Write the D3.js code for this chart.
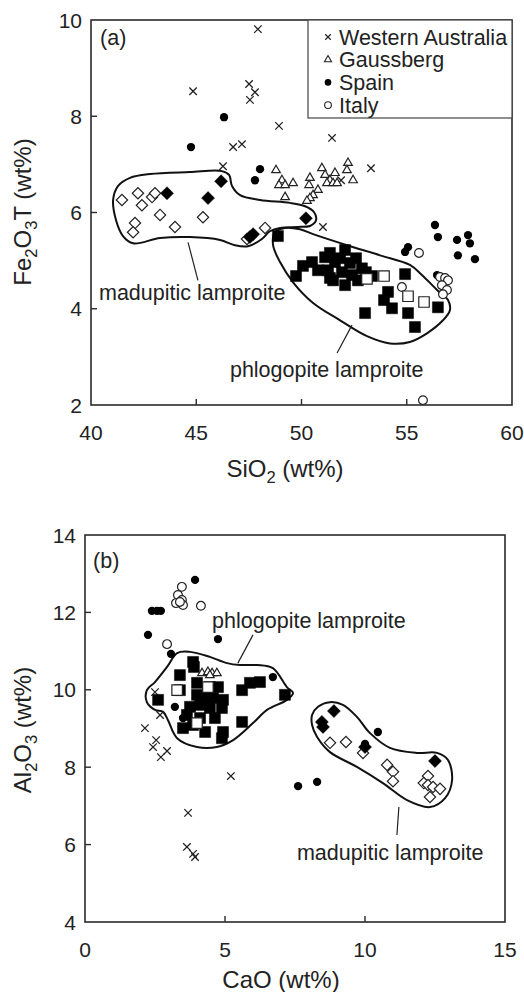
<!DOCTYPE html>
<html lang="en">
<head>
<meta charset="utf-8">
<title>Lamproites: Fe2O3T vs SiO2 and Al2O3 vs CaO</title>
<script src="https://cdnjs.cloudflare.com/ajax/libs/d3/7.8.0/d3.min.js"></script>
<style>
  body { margin: 0; background: #fff; }
  svg { font-family: Arial, "Liberation Sans", sans-serif; }
  .frame { fill: none; stroke: #2a2a2a; stroke-width: 1.6px; }
  .tick { stroke: #2a2a2a; stroke-width: 1.4px; }
  .tick-label { font-size: 21px; fill: #222; }
  .axis-title { font-size: 24px; fill: #222; }
  .note { font-size: 21.5px; fill: #222; }
  .outline { fill: none; stroke: #111; stroke-width: 2px; }
  .leader { stroke: #222; stroke-width: 1.2px; }
</style>
</head>
<body>
<div id="chart"></div>
<script>
// ---- panel (a): SiO2 vs Fe2O3T ----
var xTicksA = [40, 45, 50, 55, 60];
var yTicksA = [2, 4, 6, 8, 10];

var waA = [[47.93,9.81],[44.85,8.52],[47.51,8.67],[47.79,8.50],[47.55,8.34],[48.93,7.80],
  [46.75,7.36],[47.17,7.42],[46.27,6.96],[51.45,7.55],[53.30,6.92],[51.88,6.67],[51.02,5.70]];
var gaussA = [[48.79,6.88],[49.07,6.67],[48.93,6.57],[49.22,6.57],[49.60,6.61],[49.22,6.32],
  [50.40,6.72],[50.36,6.57],[50.97,6.92],[51.12,6.78],[51.35,6.67],[51.59,6.82],[51.21,6.61],
  [51.50,6.61],[51.69,6.61],[50.78,6.47],[50.55,6.36],[50.40,6.30],[50.26,6.24],[52.21,7.03],
  [52.16,6.88],[52.45,6.67]];
var spainA = [[46.32,7.98],[44.75,7.36],[48.03,6.90],[47.79,6.67],[56.34,5.74],[56.48,5.49],
  [57.39,5.43],[57.91,5.53],[58.00,5.36],[57.43,5.11],[58.24,5.03],[55.06,5.28],[54.92,5.18],
  [56.44,4.70]];
var italyA = [[55.58,5.16],[56.58,4.66],[56.82,4.64],[56.96,4.59],[56.67,4.49],[56.91,4.39],
  [56.72,4.30],[54.77,4.45],[55.77,2.10]];
var madOpenA = [[41.47,6.26],[42.23,6.40],[42.42,6.15],[42.90,6.32],[43.04,6.40],[43.28,5.95],
  [42.09,5.78],[42.00,5.59],[43.99,5.70],[45.32,5.90],[47.41,5.45],[48.27,5.68]];
var madFillA = [[43.61,6.40],[45.56,6.30],[46.18,6.65],[47.70,5.55],[47.55,5.49],[50.21,5.88]];
var phlFillA = [[48.88,5.51],[49.74,4.68],[50.07,4.89],[50.50,4.97],[50.78,4.80],[51.12,5.07],
  [51.35,5.16],[51.26,4.80],[51.59,4.97],[51.50,4.59],[51.83,5.05],[51.92,4.76],[52.07,4.49],
  [52.30,4.95],[52.40,4.70],[52.59,5.05],[52.68,4.59],[52.87,4.84],[53.06,4.76],[53.35,4.68],
  [54.92,4.72],[54.11,4.35],[53.92,4.18],[54.30,4.01],[53.02,3.91],[55.06,3.91],[55.39,3.62],
  [56.48,4.03],[52.07,5.22],[51.35,4.64]];
var phlOpenA = [[53.11,4.62],[53.92,4.68],[55.06,4.26],[55.82,4.14]];
var madFieldA = [[41.05,6.26],[41.28,6.55],[41.85,6.72],[42.80,6.80],[44.70,6.84],[46.22,6.86],
  [46.56,6.78],[46.70,6.55],[47.08,6.36],[48.03,6.26],[49.45,6.20],[50.17,6.13],[50.59,6.01],
  [50.69,5.84],[50.40,5.72],[49.83,5.70],[48.98,5.68],[48.50,5.61],[48.12,5.45],[47.46,5.30],
  [46.84,5.32],[46.13,5.43],[44.70,5.49],[43.28,5.47],[42.00,5.36],[41.52,5.51],[41.19,5.84]];
var phlFieldA = [[48.74,5.59],[49.22,5.68],[49.93,5.65],[50.55,5.55],[52.16,5.32],[53.73,5.11],
  [55.15,4.91],[55.72,4.70],[56.44,4.39],[56.96,4.18],[57.05,3.97],[56.72,3.76],[55.96,3.49],
  [55.15,3.31],[54.20,3.28],[53.11,3.43],[51.83,3.76],[50.55,4.12],[49.60,4.55],[48.98,4.97],
  [48.65,5.32]];

// ---- panel (b): CaO vs Al2O3 ----
var xTicksB = [0, 5, 10, 15];
var yTicksB = [4, 6, 8, 10, 12, 14];

var waB = [[2.14,9.01],[2.54,8.70],[2.43,8.52],[2.93,8.42],[2.71,8.26],[5.21,7.77],[3.68,6.82],
  [3.64,5.94],[3.86,5.76],[3.93,5.68],[2.50,9.94],[2.68,9.35]];
var gaussB = [[4.18,10.43],[4.39,10.46],[4.54,10.43],[4.71,10.43],[4.46,10.38]];
var spainB = [[3.93,12.84],[2.39,12.04],[2.57,12.04],[2.71,12.04],[2.25,11.42],[4.75,11.31],
  [3.07,10.93],[3.21,9.56],[6.71,10.33],[3.50,9.27],[7.61,7.51],[8.29,7.62],[10.46,8.91],[10.0,8.60]];
var italyB = [[3.46,12.66],[3.32,12.45],[3.46,12.32],[3.25,12.24],[3.50,12.19],[3.39,12.27],
  [4.14,12.17],[2.93,11.18]];
var phlFillB = [[3.86,10.72],[3.89,10.59],[3.39,10.38],[4.00,10.18],[4.46,10.07],[4.75,10.07],
  [3.39,9.99],[2.61,9.74],[4.00,9.87],[4.36,9.79],[4.57,9.79],[4.93,9.74],[3.75,9.56],[4.11,9.61],
  [4.46,9.53],[4.89,9.53],[4.64,9.27],[4.11,9.27],[3.50,9.01],[3.86,9.09],[4.29,8.91],[4.93,8.91],
  [4.89,8.75],[5.61,9.17],[5.61,9.99],[5.89,10.18],[6.25,10.20],[7.14,9.87],[3.64,9.35]];
var phlOpenB = [[3.29,9.99],[4.39,10.07],[4.00,9.14]];
var madFillB = [[8.89,9.45],[8.46,9.17],[8.50,9.04],[10.0,8.52],[12.5,8.16]];
var madOpenB = [[8.75,8.63],[9.32,8.65],[9.93,8.37],[10.79,8.06],[11.0,7.88],[11.0,7.64],
  [12.25,7.77],[12.10,7.59],[12.25,7.54],[12.43,7.49],[12.68,7.44],[12.32,7.23]];
var phlFieldB = [[3.29,10.95],[3.75,10.98],[4.46,10.85],[5.07,10.69],[5.54,10.64],[6.14,10.64],
  [6.71,10.56],[7.21,10.07],[7.43,9.92],[7.21,9.74],[6.50,9.48],[6.00,9.14],[5.29,8.70],
  [4.71,8.52],[4.00,8.52],[3.29,8.75],[2.96,9.22],[2.79,9.43],[2.50,9.48],[2.21,9.68],
  [2.21,9.99],[2.50,10.20],[2.93,10.59]];
var madFieldB = [[8.11,9.35],[8.32,9.56],[8.75,9.68],[9.21,9.61],[9.71,9.30],[10.18,8.88],
  [10.89,8.50],[11.86,8.37],[12.57,8.37],[12.96,8.19],[13.11,7.67],[12.86,7.20],[12.32,6.97],
  [11.50,7.15],[10.64,7.59],[9.71,8.01],[8.75,8.39],[8.29,8.78],[8.11,9.09]];

var legendNames = ["Western Australia", "Gaussberg", "Spain", "Italy"];

var W = 524, H = 992;
var svg = d3.select("#chart").append("svg")
    .attr("width", W).attr("height", H);

// x-mark path (fallback if symbolX not in this build)
var xSym = d3.symbolX || {
  draw: function(ctx, size) {
    var r = Math.sqrt(size) * 0.5;
    ctx.moveTo(-r, -r); ctx.lineTo(r, r);
    ctx.moveTo(-r, r); ctx.lineTo(r, -r);
  }
};

var styles = {
  wa:      { type: xSym,               size: 38,  fill: "none", stroke: "#222", sw: 1.3 },
  gauss:   { type: d3.symbolTriangle,  size: 32,  fill: "#fff", stroke: "#222", sw: 1.2 },
  spain:   { type: d3.symbolCircle,    size: 54,  fill: "#000", stroke: "none", sw: 0 },
  italy:   { type: d3.symbolCircle,    size: 60,  fill: "#fff", stroke: "#222", sw: 1.2 },
  madOpen: { type: d3.symbolSquare,    size: 64,  fill: "#fff", stroke: "#222", sw: 1.2, rot: 45 },
  madFill: { type: d3.symbolSquare,    size: 84,  fill: "#000", stroke: "#000", sw: 0.5, rot: 45 },
  phlFill: { type: d3.symbolSquare,    size: 121, fill: "#000", stroke: "#000", sw: 0.5 },
  phlOpen: { type: d3.symbolSquare,    size: 110, fill: "#fff", stroke: "#222", sw: 1.2 }
};

function drawPoints(g, pts, st, x, y) {
  g.append("g").selectAll("path")
    .data(pts).enter().append("path")
    .attr("d", d3.symbol().type(st.type).size(st.size))
    .attr("transform", function(d) {
      return "translate(" + x(d[0]) + "," + y(d[1]) + ")" + (st.rot ? " rotate(" + st.rot + ")" : "");
    })
    .attr("fill", st.fill)
    .attr("stroke", st.stroke)
    .attr("stroke-width", st.sw);
}

function drawField(g, pts, x, y) {
  var line = d3.line()
    .x(function(d) { return x(d[0]); })
    .y(function(d) { return y(d[1]); })
    .curve(d3.curveCatmullRomClosed.alpha(0.5));
  g.append("path").attr("class", "outline").attr("d", line(pts));
}

function drawFrame(g, x, y, xTicks, yTicks) {
  var x0 = x.range()[0], x1 = x.range()[1], y0 = y.range()[0], y1 = y.range()[1];
  g.append("rect").attr("class", "frame")
    .attr("x", x0).attr("y", y1).attr("width", x1 - x0).attr("height", y0 - y1);
  // inward ticks on bottom and left
  g.selectAll(".xt").data(xTicks.slice(1, -1)).enter().append("line")
    .attr("class", "tick")
    .attr("x1", function(d) { return x(d); }).attr("x2", function(d) { return x(d); })
    .attr("y1", y0).attr("y2", y0 - 6);
  g.selectAll(".yt").data(yTicks.slice(1, -1)).enter().append("line")
    .attr("class", "tick")
    .attr("y1", function(d) { return y(d); }).attr("y2", function(d) { return y(d); })
    .attr("x1", x0).attr("x2", x0 + 6);
  g.selectAll(".xl").data(xTicks).enter().append("text")
    .attr("class", "tick-label")
    .attr("x", function(d) { return x(d); })
    .attr("y", y0 + 35)
    .attr("text-anchor", "middle")
    .text(function(d) { return d; });
  g.selectAll(".yl").data(yTicks).enter().append("text")
    .attr("class", "tick-label")
    .attr("x", x0 - 9)
    .attr("y", function(d) { return y(d) + 7.5; })
    .attr("text-anchor", "end")
    .text(function(d) { return d; });
}

function note(g, txt, px, py) {
  g.append("text").attr("class", "note").attr("x", px).attr("y", py).text(txt);
}
function leader(g, a, b) {
  g.append("line").attr("class", "leader")
    .attr("x1", a[0]).attr("y1", a[1]).attr("x2", b[0]).attr("y2", b[1]);
}

// subscripted axis title built from parts: [text, isSub, backUp]
function title(g, parts, px, py, rotate) {
  var t = g.append("text").attr("class", "axis-title")
    .attr("text-anchor", "middle")
    .attr("transform", "translate(" + px + "," + py + ")" + (rotate ? " rotate(-90)" : ""));
  parts.forEach(function(p) {
    t.append("tspan")
      .attr("font-size", p[1] ? 16.5 : 24)
      .attr("dy", p[1] ? 6 : (p[2] ? -6 : 0))
      .text(p[0]);
  });
}

// ===== panel (a) =====
var xA = d3.scaleLinear().domain([40, 60]).range([91, 512]);
var yA = d3.scaleLinear().domain([2, 10]).range([405, 20]);
var gA = svg.append("g");

drawField(gA, madFieldA, xA, yA);
drawField(gA, phlFieldA, xA, yA);
drawPoints(gA, waA, styles.wa, xA, yA);
drawPoints(gA, gaussA, styles.gauss, xA, yA);
drawPoints(gA, spainA, styles.spain, xA, yA);
drawPoints(gA, italyA, styles.italy, xA, yA);
drawPoints(gA, madOpenA, styles.madOpen, xA, yA);
drawPoints(gA, madFillA, styles.madFill, xA, yA);
drawPoints(gA, phlFillA, styles.phlFill, xA, yA);
drawPoints(gA, phlOpenA, styles.phlOpen, xA, yA);
drawFrame(gA, xA, yA, xTicksA, yTicksA);

note(gA, "(a)", xA(40.43), yA(9.48));
note(gA, "madupitic lamproite", xA(40.38), yA(4.18));
leader(gA, [xA(44.61), yA(5.38)], [xA(45.08), yA(4.59)]);
note(gA, "phlogopite lamproite", xA(46.6), yA(2.58));
leader(gA, [xA(52.40), yA(3.66)], [xA(51.69), yA(3.08)]);

// legend
var lg = gA.append("g");
lg.append("rect").attr("x", 308).attr("y", 20).attr("width", 204).attr("height", 98)
  .attr("fill", "#fff").attr("stroke", "#444").attr("stroke-width", 1.2);
var legStyles = [
  { type: xSym, size: 22, fill: "none", stroke: "#222", sw: 1.2 },
  { type: d3.symbolTriangle, size: 22, fill: "#fff", stroke: "#222", sw: 1.1 },
  { type: d3.symbolCircle, size: 34, fill: "#000", stroke: "none", sw: 0 },
  { type: d3.symbolCircle, size: 36, fill: "#fff", stroke: "#222", sw: 1.1 }
];
legendNames.forEach(function(name, i) {
  var cy = 37 + i * 22.7;
  var st = legStyles[i];
  lg.append("path").attr("d", d3.symbol().type(st.type).size(st.size))
    .attr("transform", "translate(328," + cy + ")")
    .attr("fill", st.fill).attr("stroke", st.stroke).attr("stroke-width", st.sw);
  lg.append("text").attr("class", "note").attr("x", 339).attr("y", cy + 7.5).text(name);
});

title(gA, [["Fe"], ["2", true], ["O", false, true], ["3", true], ["T (wt%)", false, true]], 31, 212, true);
title(gA, [["SiO"], ["2", true], [" (wt%)", false, true]], 285, 477, false);

// ===== panel (b) =====
var xB = d3.scaleLinear().domain([0, 15]).range([85, 505]);
var yB = d3.scaleLinear().domain([4, 14]).range([922, 535]);
var gB = svg.append("g");

drawField(gB, phlFieldB, xB, yB);
drawField(gB, madFieldB, xB, yB);
drawPoints(gB, waB, styles.wa, xB, yB);
drawPoints(gB, spainB, styles.spain, xB, yB);
drawPoints(gB, italyB, styles.italy, xB, yB);
drawPoints(gB, phlFillB, styles.phlFill, xB, yB);
drawPoints(gB, phlOpenB, styles.phlOpen, xB, yB);
drawPoints(gB, gaussB, styles.gauss, xB, yB);
drawPoints(gB, madOpenB, styles.madOpen, xB, yB);
drawPoints(gB, madFillB, styles.madFill, xB, yB);
drawFrame(gB, xB, yB, xTicksB, yTicksB);

note(gB, "(b)", xB(0.29), yB(13.15));
note(gB, "phlogopite lamproite", xB(4.54), yB(11.6));
leader(gB, [xB(6.0), yB(11.42)], [xB(5.46), yB(10.69)]);
note(gB, "madupitic lamproite", xB(7.57), yB(5.6));
leader(gB, [xB(11.21), yB(6.97)], [xB(11.14), yB(6.25)]);

title(gB, [["Al"], ["2", true], ["O", false, true], ["3", true], [" (wt%)", false, true]], 31, 730, true);
title(gB, [["CaO (wt%)"]], 281, 988, false);
</script>
</body>
</html>
